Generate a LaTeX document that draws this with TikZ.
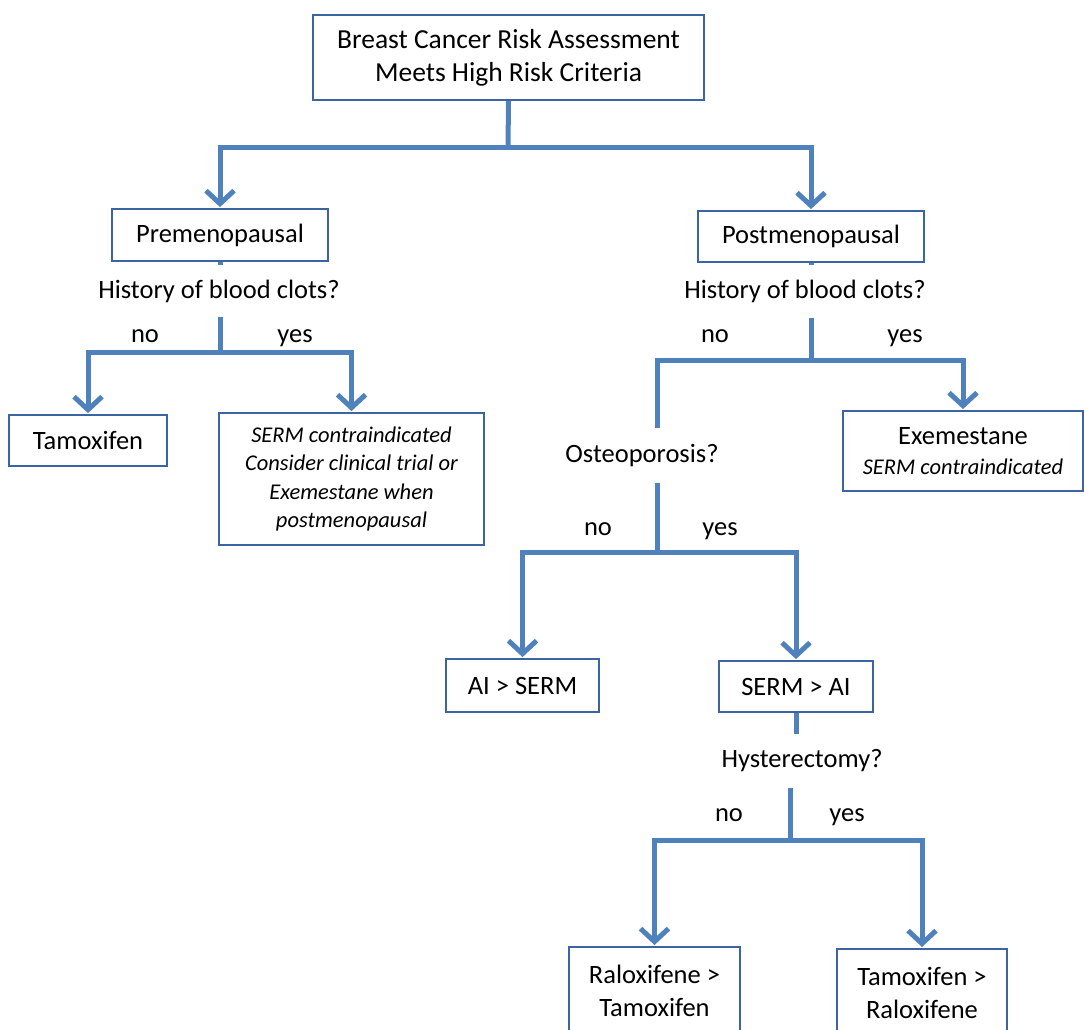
\documentclass[tikz,border=0pt]{standalone}
\usepackage{fontspec}
\setmainfont{Carlito}
\usetikzlibrary{arrows.meta,backgrounds}
\definecolor{conncol}{RGB}{79,129,189}
\definecolor{boxcol}{RGB}{60,100,160}

\begin{document}
\begin{tikzpicture}[x=1pt,y=-1pt,
  box/.style={draw=boxcol,line width=1.8pt,fill=white,inner sep=0pt,align=center,
              font=\fontsize{26.5}{33}\selectfont},
  question/.style={fill=white,inner sep=0pt,font=\fontsize{26.5}{32}\selectfont},
  yn/.style={inner sep=0pt,anchor=base,font=\fontsize{26.5}{32}\selectfont},
  conn/.style={draw=conncol,line width=5pt},
  arr/.style={conn,-{Straight Barb[length=13pt,width=28pt]},shorten >=1pt}
]
\useasboundingbox (0,0) rectangle (1084,1030);
\clip (0,0) rectangle (1084,1030);

% top of the tree
\node[box,minimum width=391pt,minimum height=85pt,font=\fontsize{27.5}{33}\selectfont]
  (top) at (508.5,57.5) {Breast Cancer Risk Assessment\\Meets High Risk Criteria};
\coordinate (j1) at (508,148);

% menopausal status
\node[box,minimum width=216pt,minimum height=52pt] (pre) at (220,235) {Premenopausal};
\node[box,minimum width=226pt,minimum height=51pt] (post) at (811,236.5) {Postmenopausal};

% blood clot questions
\node[question,minimum height=52pt] (hl) at (219,291) {History of blood clots?};
\node[question,minimum height=53pt] (hr) at (805,291.5) {History of blood clots?};
\coordinate (jl) at (220,352);
\coordinate (jr) at (811,360);
\node[yn] (nol) at (145,342) {no};
\node[yn] (yesl) at (295,342) {yes};
\node[yn] (nor) at (715,342) {no};
\node[yn] (yesr) at (905,342) {yes};

% premenopausal outcomes
\node[box,minimum width=158pt,minimum height=51pt] (tam) at (88,440.5) {Tamoxifen};
\node[box,minimum width=265pt,minimum height=132pt,font=\itshape\fontsize{22.5}{28.5}\selectfont]
  (serm) at (351.5,479) {SERM contraindicated\\Consider clinical trial or\\Exemestane when\\postmenopausal};

% postmenopausal, clots
\node[box,minimum width=240pt,minimum height=80pt] (exe) at (963,451)
  {Exemestane\\[-3pt]{\itshape\fontsize{22.5}{28}\selectfont SERM contraindicated}};

% osteoporosis question
\node[question,minimum height=55pt] (ost) at (642,455.5) {Osteoporosis?};
\coordinate (jo) at (657,552);
\node[yn] (noo) at (598,535) {no};
\node[yn] (yeso) at (720,535) {yes};

\node[box,minimum width=153pt,minimum height=53pt] (ais) at (522.5,685.5) {AI > SERM};
\node[box,minimum width=154pt,minimum height=51pt] (sai) at (796,686.5) {SERM > AI};

% hysterectomy question
\node[question,minimum height=54pt] (hys) at (802,761) {Hysterectomy?};
\coordinate (jh) at (790,840);
\node[yn] (noh) at (729,821) {no};
\node[yn] (yesh) at (847,821) {yes};

\node[box,minimum width=171pt,minimum height=88pt,anchor=north] (rt) at (654.5,946)
  {Raloxifene >\\Tamoxifen};
\node[box,minimum width=170pt,minimum height=88pt,anchor=north] (tr) at (922,948)
  {Tamoxifen >\\Raloxifene};

% connectors behind the boxes and questions
\begin{pgfonlayer}{background}
  \draw[conn] (top.south) -- (j1);
  \draw[arr] (j1) -| (pre.north);
  \draw[arr] (j1) -| (post.north);
  \draw[conn] (pre.south) -- (jl);
  \draw[arr] (jl) -| (tam.north);
  \draw[arr] (jl) -| (serm.north);
  \draw[conn] (post.south) -- (jr);
  \draw[arr] (jr) -| (exe.north);
  \draw[conn] (jr) -| (jo);
  \draw[arr] (jo) -| (ais.north);
  \draw[arr] (jo) -| (sai.north);
  \draw[conn] (sai.south) -- (sai.south |- hys.center);
  \draw[conn] (jh |- hys.center) -- (jh);
  \draw[arr] (jh) -| (rt.north);
  \draw[arr] (jh) -| (tr.north);
\end{pgfonlayer}
\end{tikzpicture}
\end{document}
